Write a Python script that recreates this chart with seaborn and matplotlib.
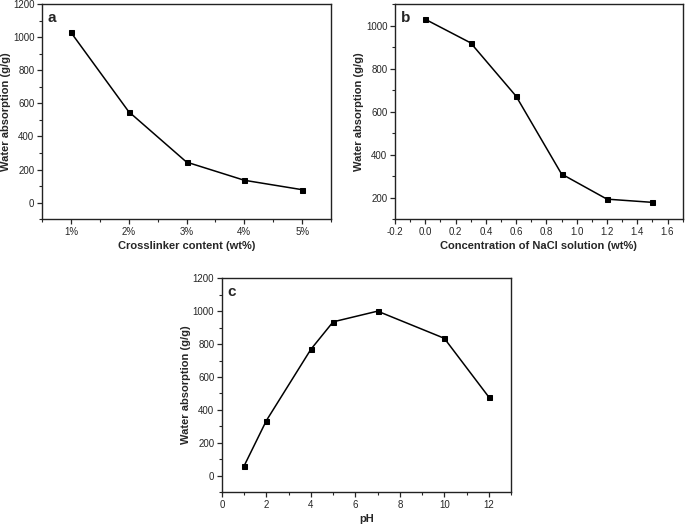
import numpy as np
import pandas as pd
import matplotlib
matplotlib.use("Agg")
import matplotlib.pyplot as plt
import seaborn as sns
from matplotlib.ticker import AutoMinorLocator, MultipleLocator

sns.set_style("ticks")
plt.rcParams['font.family'] = ['Liberation Sans', 'DejaVu Sans']

# panel a
crosslinker = [1, 2, 3, 4, 5]
crosslinker_labels = ['1%', '2%', '3%', '4%', '5%']
absorb_a = [1030, 550, 245, 135, 78]
# panel b
nacl = [0.0, 0.3, 0.6, 0.9, 1.2, 1.5]
absorb_b = [1030, 920, 672, 310, 193, 178]
# panel c
ph = [1, 2, 4, 5, 7, 10, 12]
absorb_c = [60, 335, 768, 935, 1000, 835, 478]

fig = plt.figure(figsize=(6.85, 5.28), dpi=100)
ax_a = fig.add_axes([0.0613, 0.585, 0.422, 0.407])
ax_b = fig.add_axes([0.5766, 0.585, 0.420, 0.407])
ax_c = fig.add_axes([0.324, 0.068, 0.422, 0.405])

def style(ax, letter, xlabel):
    for s in ax.spines.values():
        s.set_linewidth(1.0)
        s.set_color('#222222')
    ax.tick_params(which='major', direction='out', length=3.5, width=0.9, labelsize=7, pad=2)
    ax.tick_params(which='minor', direction='out', length=2, width=0.8)
    ax.xaxis.set_minor_locator(AutoMinorLocator(2))
    ax.yaxis.set_minor_locator(AutoMinorLocator(2))
    ax.set_ylabel('Water absorption (g/g)', fontsize=8, fontweight='bold', labelpad=1)
    ax.set_xlabel(xlabel, fontsize=8, fontweight='bold', labelpad=3)
    ax.text(0.02, 0.97, letter, transform=ax.transAxes, fontsize=11,
            fontweight='bold', va='top', ha='left')

line_kw = dict(color='black', lw=1.1, marker='s', markersize=3.6, markeredgecolor='black')

df_a = pd.DataFrame({'x': crosslinker, 'y': absorb_a})
sns.lineplot(data=df_a, x='x', y='y', ax=ax_a, **line_kw)
ax_a.set_xlim(0.5, 5.5)
ax_a.set_ylim(-100, 1200)
ax_a.set_xticks(crosslinker)
ax_a.set_xticklabels(crosslinker_labels)
ax_a.yaxis.set_major_locator(MultipleLocator(200))
style(ax_a, 'a', 'Crosslinker content (wt%)')

df_b = pd.DataFrame({'x': nacl, 'y': absorb_b})
sns.lineplot(data=df_b, x='x', y='y', ax=ax_b, **line_kw)
ax_b.set_xlim(-0.2, 1.7)
ax_b.set_ylim(100, 1100)
ax_b.xaxis.set_major_locator(MultipleLocator(0.2))
ax_b.yaxis.set_major_locator(MultipleLocator(200))
ax_b.xaxis.set_major_formatter(matplotlib.ticker.FormatStrFormatter('%.1f'))
style(ax_b, 'b', 'Concentration of NaCl solution (wt%)')

df_c = pd.DataFrame({'x': ph, 'y': absorb_c})
sns.lineplot(data=df_c, x='x', y='y', ax=ax_c, **line_kw)
ax_c.set_xlim(0, 13)
ax_c.set_ylim(-100, 1200)
ax_c.xaxis.set_major_locator(MultipleLocator(2))
ax_c.yaxis.set_major_locator(MultipleLocator(200))
style(ax_c, 'c', 'pH')

fig.savefig('out.png', dpi=100)
